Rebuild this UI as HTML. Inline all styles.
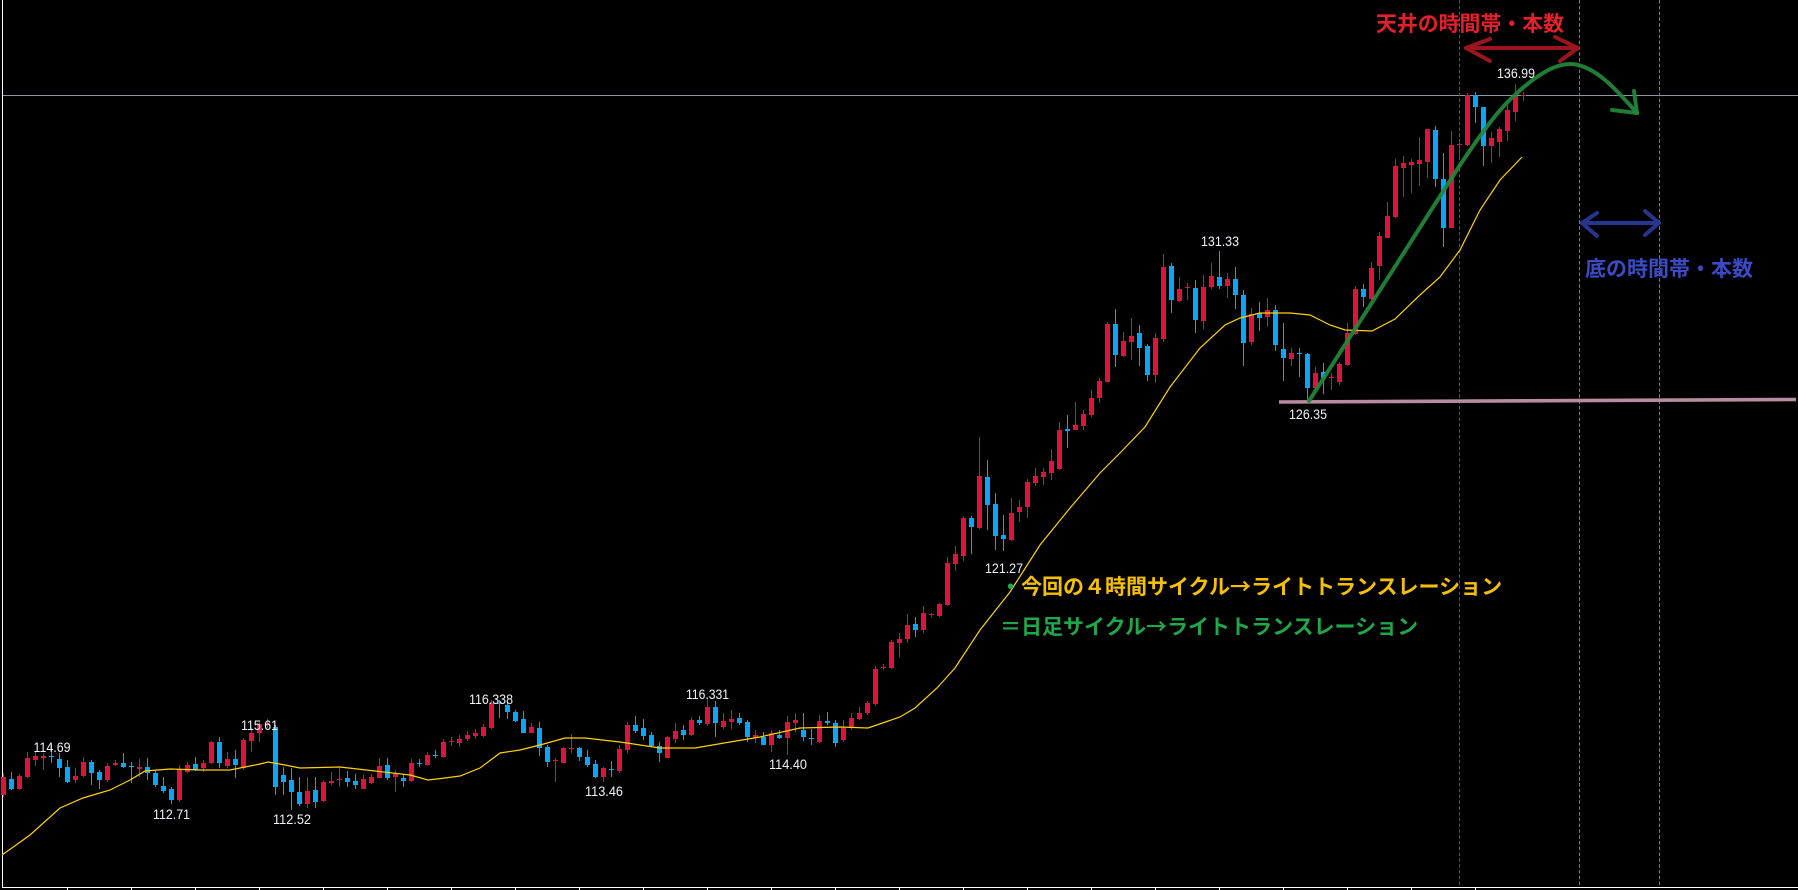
<!DOCTYPE html>
<html>
<head>
<meta charset="utf-8">
<style>
html,body{margin:0;padding:0;background:#000;}
body{width:1798px;height:890px;overflow:hidden;}
svg{display:block;}
.lbl{font-family:"Liberation Sans",Arial,sans-serif;font-size:14px;fill:#eef2f8;}
.jp{font-family:"Liberation Sans","Noto Sans CJK JP",sans-serif;font-size:21px;font-weight:bold;}
.cjk{font-family:"Noto Sans CJK JP","Liberation Sans",sans-serif;}
</style>
</head>
<body>
<svg width="1798" height="890" viewBox="0 0 1798 890" xmlns="http://www.w3.org/2000/svg">
<rect x="0" y="0" width="1798" height="890" fill="#000"/>
<!-- frame -->
<g shape-rendering="crispEdges">
<rect x="2" y="0" width="1" height="888" fill="#ffffff"/>
<rect x="2" y="887" width="1796" height="1" fill="#ffffff"/>
<path d="M67 887v3M131 887v3M195 887v3M259 887v3M323 887v3M387 887v3M451 887v3M515 887v3M579 887v3M643 887v3M707 887v3M771 887v3M835 887v3M899 887v3M963 887v3M1027 887v3M1091 887v3M1155 887v3M1219 887v3M1283 887v3M1347 887v3M1411 887v3M1475 887v3" stroke="#ffffff" stroke-width="1" transform="translate(0.5,0)"/>
<rect x="3" y="95" width="1795" height="1" fill="#8a97a8"/>
</g>
<!-- dashed verticals -->
<line x1="1459.5" y1="0" x2="1459.5" y2="886" stroke="#e8181c" stroke-width="1" stroke-dasharray="3.5 2.3"/>
<line x1="1579.5" y1="0" x2="1579.5" y2="886" stroke="#3a8fe8" stroke-width="1" stroke-dasharray="3.5 2.3"/>
<line x1="1659.5" y1="0" x2="1659.5" y2="886" stroke="#3a8fe8" stroke-width="1" stroke-dasharray="3.5 2.3"/>
<!-- candles red -->
<path shape-rendering="crispEdges" fill="#dc143c" d="M3 773h1v24h-1zM1 777h5v18h-5zM19 774h1v16h-1zM17 776h5v13h-5zM27 752h1v26h-1zM25 758h5v19h-5zM35 752h1v14h-1zM33 756h5v4h-5zM43 753h1v17h-1zM41 756h5v2h-5zM75 768h1v15h-1zM73 776h5v4h-5zM83 757h1v20h-1zM81 762h5v14h-5zM107 763h1v19h-1zM105 766h5v14h-5zM115 760h1v6h-1zM113 763h5v2h-5zM139 759h1v18h-1zM137 767h5v2h-5zM179 765h1v37h-1zM177 770h5v30h-5zM187 762h1v11h-1zM185 765h5v7h-5zM203 760h1v12h-1zM201 763h5v5h-5zM211 741h1v23h-1zM209 742h5v21h-5zM227 752h1v16h-1zM225 759h5v7h-5zM243 738h1v32h-1zM241 740h5v28h-5zM251 728h1v24h-1zM249 733h5v8h-5zM259 720h1v22h-1zM257 724h5v9h-5zM267 719h1v9h-1zM265 723h5v2h-5zM307 777h1v31h-1zM305 791h5v13h-5zM323 780h1v22h-1zM321 782h5v19h-5zM331 772h1v13h-1zM329 781h5v2h-5zM339 768h1v19h-1zM337 779h5v1h-5zM363 775h1v14h-1zM361 779h5v10h-5zM371 774h1v10h-1zM369 777h5v6h-5zM379 758h1v20h-1zM377 766h5v12h-5zM395 770h1v22h-1zM393 773h5v4h-5zM411 759h1v23h-1zM409 763h5v18h-5zM427 752h1v14h-1zM425 755h5v10h-5zM443 739h1v19h-1zM441 742h5v15h-5zM451 737h1v9h-1zM449 741h5v1h-5zM459 735h1v12h-1zM457 739h5v4h-5zM467 731h1v10h-1zM465 735h5v4h-5zM475 729h1v10h-1zM473 733h5v3h-5zM483 724h1v13h-1zM481 727h5v9h-5zM491 700h1v29h-1zM489 703h5v25h-5zM531 723h1v10h-1zM529 727h5v6h-5zM555 758h1v24h-1zM553 760h5v1h-5zM563 747h1v16h-1zM561 748h5v15h-5zM571 734h1v19h-1zM569 748h5v1h-5zM603 767h1v15h-1zM601 768h5v9h-5zM619 745h1v28h-1zM617 749h5v22h-5zM627 722h1v31h-1zM625 725h5v25h-5zM667 736h1v22h-1zM665 737h5v21h-5zM675 723h1v20h-1zM673 731h5v8h-5zM691 717h1v19h-1zM689 720h5v15h-5zM707 698h1v28h-1zM705 707h5v17h-5zM723 713h1v16h-1zM721 721h5v6h-5zM731 710h1v19h-1zM729 719h5v3h-5zM755 730h1v13h-1zM753 735h5v3h-5zM771 730h1v22h-1zM769 733h5v12h-5zM787 716h1v39h-1zM785 722h5v16h-5zM795 713h1v19h-1zM793 720h5v3h-5zM819 715h1v28h-1zM817 721h5v21h-5zM843 720h1v22h-1zM841 728h5v12h-5zM851 713h1v17h-1zM849 718h5v10h-5zM859 707h1v13h-1zM857 713h5v6h-5zM867 701h1v14h-1zM865 703h5v10h-5zM875 666h1v40h-1zM873 669h5v35h-5zM883 664h1v6h-1zM881 667h5v1h-5zM891 640h1v29h-1zM889 642h5v26h-5zM899 633h1v24h-1zM897 639h5v4h-5zM907 614h1v29h-1zM905 625h5v14h-5zM923 606h1v27h-1zM921 613h5v17h-5zM931 613h1v4h-1zM929 614h5v1h-5zM939 603h1v14h-1zM937 604h5v12h-5zM947 557h1v49h-1zM945 563h5v42h-5zM955 546h1v25h-1zM953 554h5v10h-5zM963 516h1v45h-1zM961 518h5v38h-5zM979 437h1v92h-1zM977 476h5v52h-5zM1011 498h1v43h-1zM1009 513h5v27h-5zM1019 500h1v22h-1zM1017 507h5v5h-5zM1027 479h1v39h-1zM1025 482h5v25h-5zM1035 468h1v18h-1zM1033 476h5v7h-5zM1043 468h1v17h-1zM1041 472h5v5h-5zM1051 449h1v31h-1zM1049 461h5v12h-5zM1059 422h1v48h-1zM1057 430h5v39h-5zM1075 402h1v28h-1zM1073 425h5v5h-5zM1083 410h1v20h-1zM1081 414h5v12h-5zM1091 390h1v27h-1zM1089 398h5v17h-5zM1099 378h1v25h-1zM1097 381h5v17h-5zM1107 322h1v60h-1zM1105 324h5v58h-5zM1123 332h1v25h-1zM1121 341h5v15h-5zM1131 318h1v42h-1zM1129 336h5v6h-5zM1155 333h1v50h-1zM1153 338h5v37h-5zM1163 254h1v88h-1zM1161 267h5v72h-5zM1179 277h1v25h-1zM1177 289h5v12h-5zM1187 283h1v17h-1zM1185 287h5v1h-5zM1203 275h1v54h-1zM1201 287h5v34h-5zM1211 263h1v26h-1zM1209 276h5v11h-5zM1227 273h1v25h-1zM1225 279h5v7h-5zM1251 308h1v37h-1zM1249 314h5v28h-5zM1267 298h1v29h-1zM1265 310h5v7h-5zM1291 348h1v18h-1zM1289 353h5v6h-5zM1315 367h1v22h-1zM1313 373h5v15h-5zM1331 373h1v17h-1zM1329 377h5v1h-5zM1339 362h1v23h-1zM1337 364h5v18h-5zM1347 323h1v43h-1zM1345 333h5v32h-5zM1355 286h1v49h-1zM1353 289h5v45h-5zM1371 262h1v38h-1zM1369 268h5v31h-5zM1379 232h1v48h-1zM1377 236h5v30h-5zM1387 202h1v36h-1zM1385 216h5v22h-5zM1395 159h1v59h-1zM1393 166h5v51h-5zM1403 156h1v41h-1zM1401 163h5v5h-5zM1411 159h1v34h-1zM1409 162h5v3h-5zM1419 137h1v49h-1zM1417 160h5v4h-5zM1427 129h1v49h-1zM1425 129h5v33h-5zM1451 131h1v97h-1zM1449 145h5v83h-5zM1459 139h1v19h-1zM1457 144h5v1h-5zM1467 93h1v53h-1zM1465 95h5v50h-5zM1491 132h1v31h-1zM1489 138h5v8h-5zM1499 127h1v30h-1zM1497 129h5v13h-5zM1507 102h1v39h-1zM1505 110h5v21h-5zM1515 84h1v37h-1zM1513 96h5v16h-5zM1523 92h1v9h-1zM1521 95h5v1h-5z"/>
<!-- candles blue -->
<path shape-rendering="crispEdges" fill="#0aa5f8" d="M11 772h1v18h-1zM9 779h5v10h-5zM51 745h1v18h-1zM49 756h5v1h-5zM59 753h1v24h-1zM57 759h5v9h-5zM67 760h1v23h-1zM65 767h5v15h-5zM91 760h1v25h-1zM89 762h5v11h-5zM99 770h1v19h-1zM97 772h5v8h-5zM123 753h1v15h-1zM121 763h5v4h-5zM131 762h1v21h-1zM129 766h5v1h-5zM147 758h1v22h-1zM145 767h5v6h-5zM155 770h1v17h-1zM153 773h5v12h-5zM163 777h1v16h-1zM161 786h5v5h-5zM171 787h1v17h-1zM169 789h5v11h-5zM195 757h1v14h-1zM193 764h5v6h-5zM219 737h1v31h-1zM217 742h5v21h-5zM235 750h1v28h-1zM233 759h5v6h-5zM275 725h1v70h-1zM273 727h5v60h-5zM283 767h1v28h-1zM281 775h5v7h-5zM291 768h1v42h-1zM289 780h5v12h-5zM299 777h1v29h-1zM297 792h5v12h-5zM315 777h1v31h-1zM313 790h5v12h-5zM347 771h1v16h-1zM345 778h5v4h-5zM355 774h1v15h-1zM353 781h5v4h-5zM387 758h1v22h-1zM385 765h5v13h-5zM403 774h1v13h-1zM401 778h5v3h-5zM419 759h1v8h-1zM417 763h5v1h-5zM435 750h1v8h-1zM433 755h5v1h-5zM499 700h1v18h-1zM497 703h5v1h-5zM507 702h1v17h-1zM505 705h5v7h-5zM515 710h1v12h-1zM513 712h5v9h-5zM523 711h1v22h-1zM521 719h5v14h-5zM539 722h1v34h-1zM537 728h5v20h-5zM547 745h1v22h-1zM545 747h5v15h-5zM579 747h1v14h-1zM577 748h5v9h-5zM587 750h1v17h-1zM585 757h5v8h-5zM595 760h1v18h-1zM593 764h5v13h-5zM611 761h1v16h-1zM609 769h5v1h-5zM635 716h1v17h-1zM633 725h5v6h-5zM643 719h1v21h-1zM641 728h5v8h-5zM651 732h1v15h-1zM649 735h5v11h-5zM659 742h1v20h-1zM657 746h5v7h-5zM683 725h1v15h-1zM681 730h5v5h-5zM699 716h1v9h-1zM697 720h5v3h-5zM715 701h1v36h-1zM713 707h5v16h-5zM739 713h1v12h-1zM737 718h5v5h-5zM747 720h1v22h-1zM745 722h5v15h-5zM763 732h1v13h-1zM761 737h5v8h-5zM779 730h1v9h-1zM777 735h5v3h-5zM803 713h1v28h-1zM801 730h5v7h-5zM811 729h1v16h-1zM809 738h5v1h-5zM827 712h1v13h-1zM825 721h5v2h-5zM835 720h1v27h-1zM833 723h5v20h-5zM915 617h1v20h-1zM913 624h5v6h-5zM971 516h1v38h-1zM969 518h5v9h-5zM987 460h1v70h-1zM985 477h5v28h-5zM995 493h1v57h-1zM993 504h5v32h-5zM1003 515h1v36h-1zM1001 535h5v4h-5zM1067 415h1v33h-1zM1065 429h5v2h-5zM1115 309h1v58h-1zM1113 324h5v31h-5zM1139 325h1v41h-1zM1137 333h5v15h-5zM1147 344h1v37h-1zM1145 346h5v29h-5zM1171 263h1v50h-1zM1169 266h5v34h-5zM1195 280h1v53h-1zM1193 288h5v32h-5zM1219 251h1v38h-1zM1217 277h5v9h-5zM1235 267h1v42h-1zM1233 279h5v16h-5zM1243 290h1v76h-1zM1241 295h5v48h-5zM1259 302h1v29h-1zM1257 313h5v5h-5zM1275 305h1v46h-1zM1273 310h5v35h-5zM1283 323h1v58h-1zM1281 349h5v9h-5zM1299 348h1v29h-1zM1297 353h5v1h-5zM1307 353h1v48h-1zM1305 354h5v34h-5zM1323 363h1v31h-1zM1321 372h5v6h-5zM1363 284h1v23h-1zM1361 289h5v8h-5zM1435 126h1v61h-1zM1433 130h5v49h-5zM1443 153h1v94h-1zM1441 179h5v49h-5zM1475 92h1v31h-1zM1473 95h5v12h-5zM1483 107h1v59h-1zM1481 107h5v39h-5z"/>
<!-- moving average -->
<polyline fill="none" stroke="#ffd200" stroke-width="1.2" points="2,855 30,835 60,808 83,798 110,790 130,780 145,771 170,769 200,770 230,770 260,764 268,762 285,765 300,768 340,767 375,771 410,775 428,780 445,778 460,776 480,768 500,753 520,750 540,745 565,738 585,738 620,742 660,748 695,748 730,742 760,737 800,728 840,727 868,728 900,717 915,708 937,688 955,668 980,630 1010,592 1040,545 1070,508 1100,473 1120,453 1145,427 1170,387 1200,348 1225,325 1240,318 1260,313 1290,313 1310,315 1330,325 1345,330 1372,331 1395,319 1420,295 1440,277 1460,250 1480,210 1500,180 1522,157"/>
<!-- pink support line -->
<line x1="1279" y1="402" x2="1796" y2="399.5" stroke="#b68c9e" stroke-width="3.6"/>
<!-- green arc -->
<path d="M1309 401 L1460 165 C1485 128,1500 108,1515 95 C1535 76,1555 63,1572 64 C1595 66,1615 88,1637 113" fill="none" stroke="#22883a" stroke-width="4" stroke-linecap="round" stroke-linejoin="round" opacity="0.92"/>
<path d="M1612 110 L1637 113 L1634 91" fill="none" stroke="#22883a" stroke-width="4" stroke-linecap="round" stroke-linejoin="round" opacity="0.92"/>
<!-- red double arrow -->
<g fill="none" stroke="#a8181f" stroke-width="4" stroke-linecap="round" stroke-linejoin="round" opacity="0.92">
<path d="M1466 48 L1578 48"/>
<path d="M1490 39 L1466 48 L1490 61"/>
<path d="M1555 37 L1578 48 L1560 61"/>
</g>
<!-- blue double arrow -->
<g fill="none" stroke="#2b3a9c" stroke-width="4" stroke-linecap="round" stroke-linejoin="round" opacity="0.92">
<path d="M1582 223 L1659 223"/>
<path d="M1597 213 L1582 223 L1597 236"/>
<path d="M1645 211 L1659 223 L1645 235"/>
</g>
<!-- price labels -->
<g class="lbl" text-anchor="middle">
<text x="52" y="752" textLength="37" lengthAdjust="spacingAndGlyphs">114.69</text>
<text x="171.5" y="819" textLength="37" lengthAdjust="spacingAndGlyphs">112.71</text>
<text x="259.5" y="730" textLength="37" lengthAdjust="spacingAndGlyphs">115.61</text>
<text x="292" y="824" textLength="38" lengthAdjust="spacingAndGlyphs">112.52</text>
<text x="491" y="704" textLength="44" lengthAdjust="spacingAndGlyphs">116.338</text>
<text x="604" y="796" textLength="38" lengthAdjust="spacingAndGlyphs">113.46</text>
<text x="707.5" y="699" textLength="43" lengthAdjust="spacingAndGlyphs">116.331</text>
<text x="788" y="769" textLength="38" lengthAdjust="spacingAndGlyphs">114.40</text>
<text x="1004" y="573" textLength="38" lengthAdjust="spacingAndGlyphs">121.27</text>
<text x="1220" y="246" textLength="38" lengthAdjust="spacingAndGlyphs">131.33</text>
<text x="1308" y="419" textLength="38" lengthAdjust="spacingAndGlyphs">126.35</text>
<text x="1516" y="78" textLength="38" lengthAdjust="spacingAndGlyphs">136.99</text>
</g>
<!-- Japanese annotations -->
<text class="jp" x="1376" y="31" fill="#e3202b" textLength="188" lengthAdjust="spacingAndGlyphs">天井の時間帯・本数</text>
<text class="jp" x="1585" y="276" fill="#3b4bc4" textLength="168" lengthAdjust="spacingAndGlyphs">底の時間帯・本数</text>
<text class="jp" x="1000" y="594" fill="#1fa84a" textLength="21" lengthAdjust="spacingAndGlyphs">・</text>
<text class="jp" x="1021" y="594" fill="#f5c000">今回の４時間サイクル<tspan class="cjk">→</tspan>ライトトランスレーション</text>
<text class="jp" x="1000" y="634" fill="#1fa84a">＝日足サイクル<tspan class="cjk">→</tspan>ライトトランスレーション</text>
</svg>
</body>
</html>
